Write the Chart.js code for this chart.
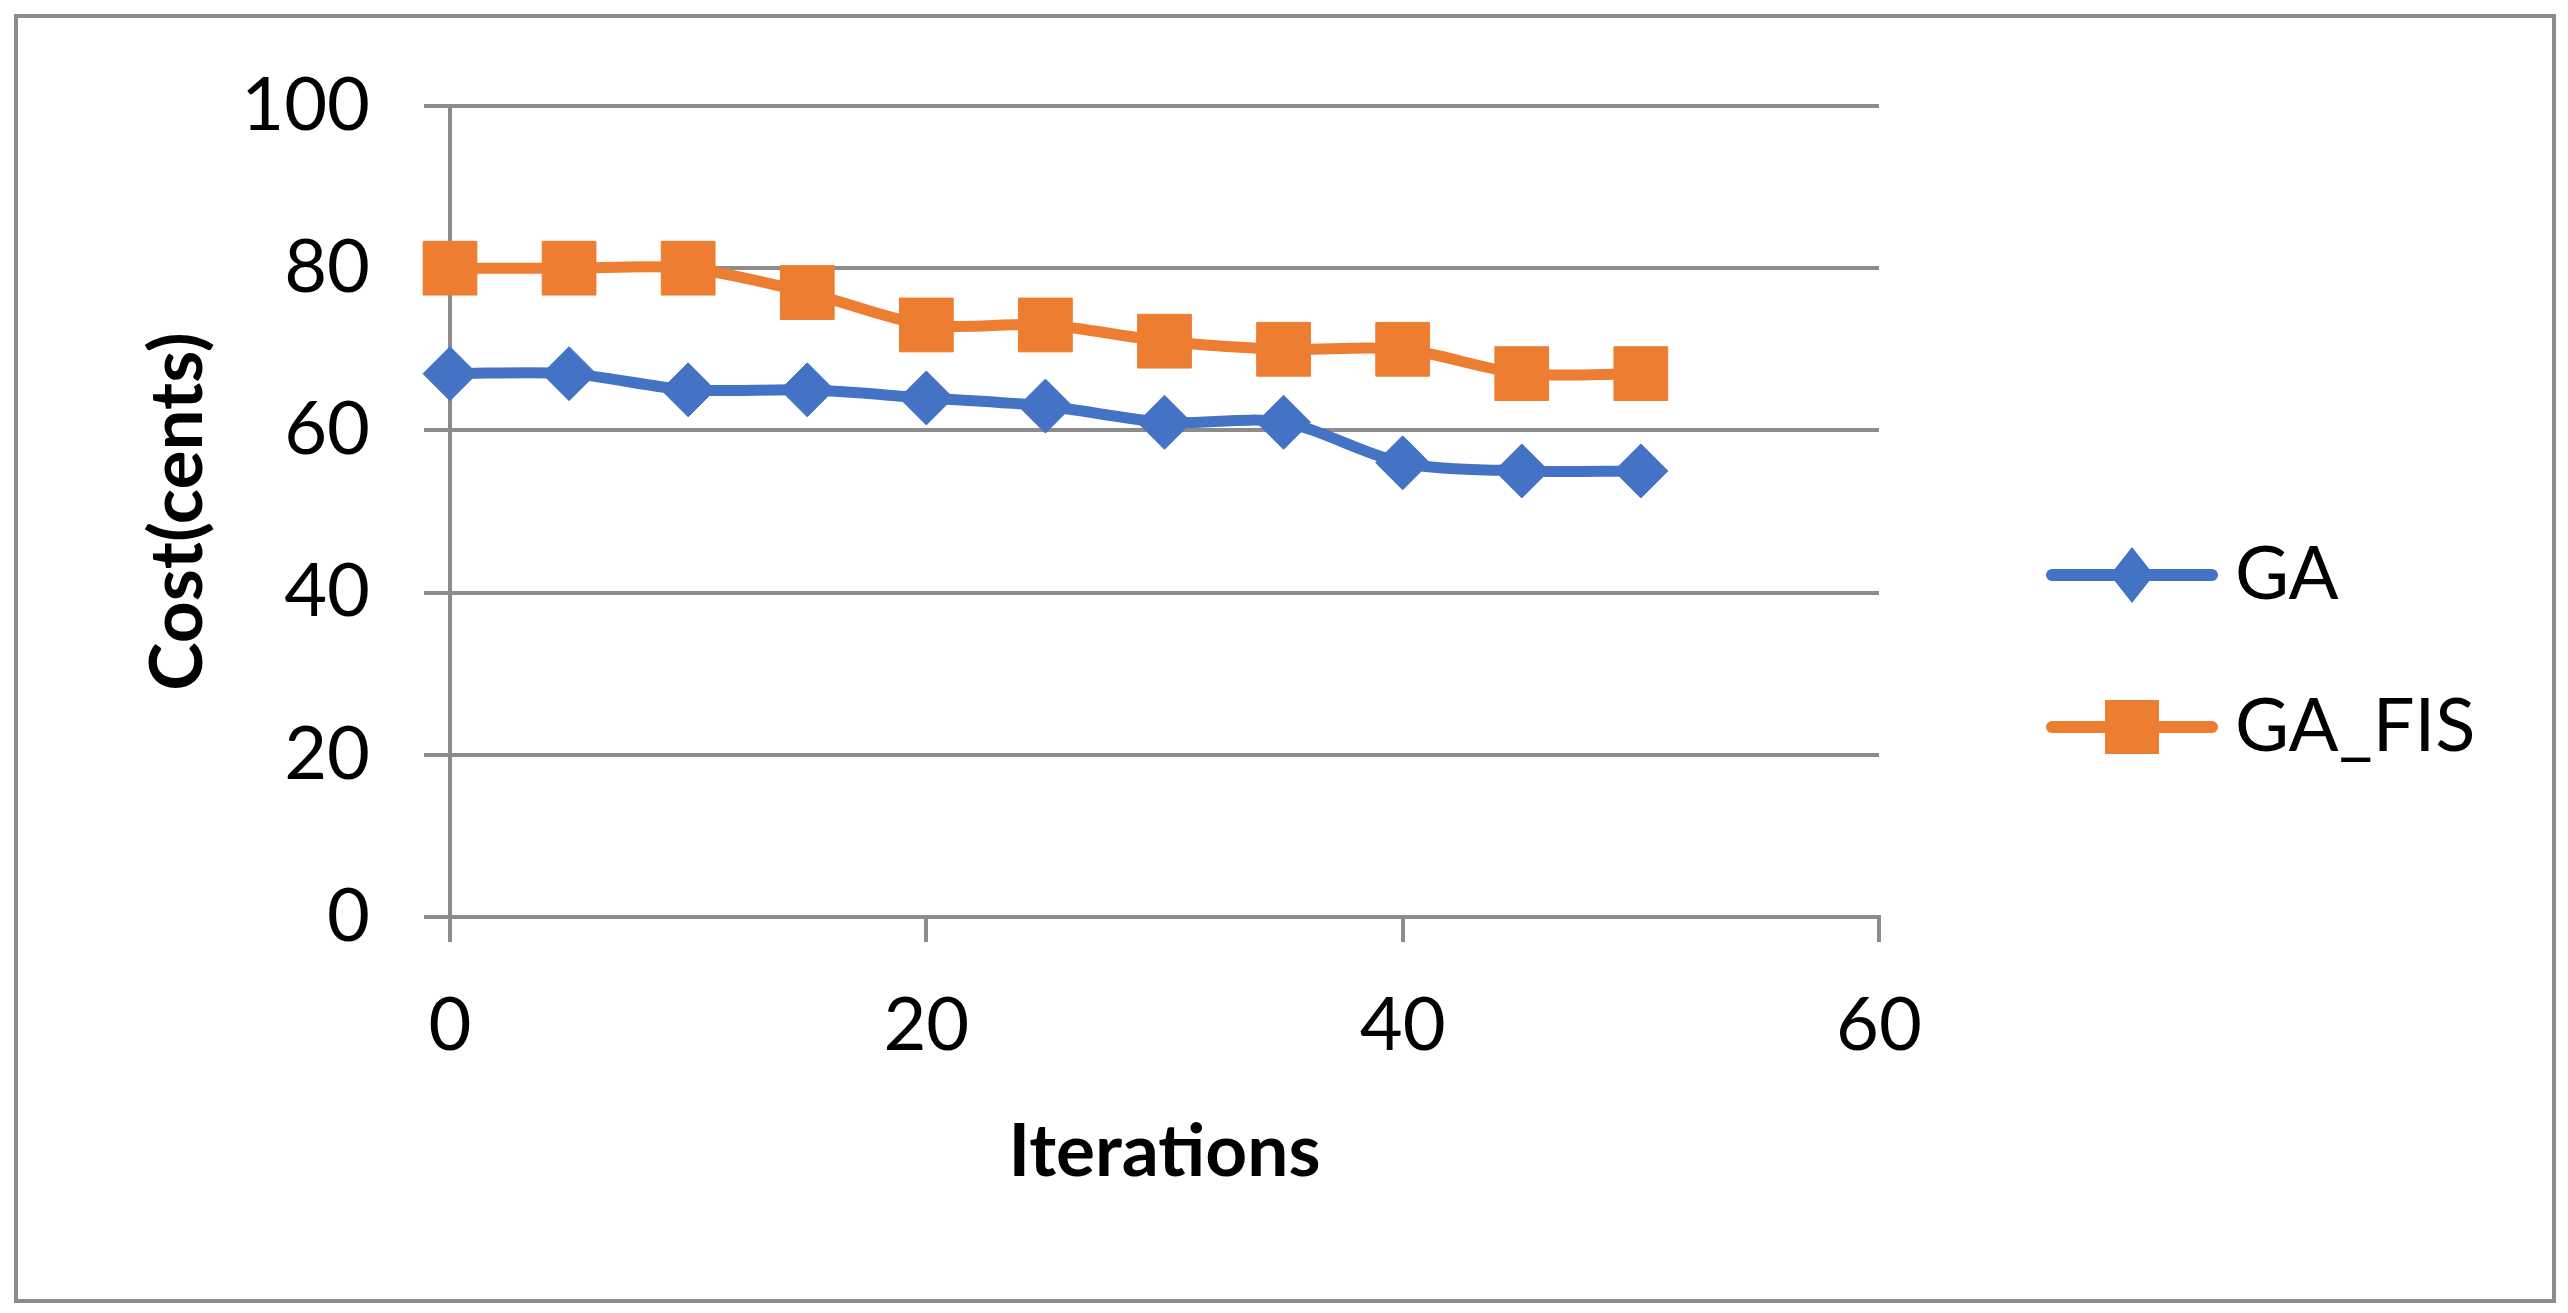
<!DOCTYPE html>
<html>
<head>
<meta charset="utf-8">
<script src="https://cdn.jsdelivr.net/npm/chart.js@4"></script>
<style>
  html, body { margin: 0; padding: 0; background: #fff; }
  #frame {
    position: absolute; left: 14px; top: 14px;
    width: 2542px; height: 1289px;
    border: 4px solid #8c8c8c; box-sizing: border-box;
  }
  #box { position: relative; width: 100%; height: 100%; }
</style>
</head>
<body>
<div id="frame"><div id="box"><canvas id="myChart"></canvas></div></div>
<script>
var iterations = [0, 5, 10, 15, 20, 25, 30, 35, 40, 45, 50];
var gaCost = [67, 67, 65, 65, 64, 63, 61, 61, 56, 55, 55];
var gaFisCost = [80, 80, 80, 77, 73, 73, 71, 70, 70, 67, 67];
var xTicks = [0, 20, 40, 60];
var yTicks = [0, 20, 40, 60, 80, 100];

var blue = '#4472c4';
var orange = '#ed7d31';
var gray = '#8c8c8c';
var legendBoxWidth = 650;

function pts(vals) {
	return iterations.map(function (x, i) { return { x: x, y: vals[i] }; });
}

// legend icon: line with marker, drawn on a small canvas
function legendIcon(color, shape) {
	var c = document.createElement('canvas');
	c.width = 281; c.height = 64;
	var g = c.getContext('2d');
	var x0 = c.width - 172, cy = c.height / 2, cx = c.width - 86;
	g.strokeStyle = color; g.lineWidth = 12; g.lineCap = 'round';
	g.beginPath(); g.moveTo(x0 + 6, cy); g.lineTo(c.width - 6, cy); g.stroke();
	g.fillStyle = color;
	g.beginPath();
	if (shape === 'diamond') {
		g.moveTo(cx, cy - 28); g.lineTo(cx + 22, cy); g.lineTo(cx, cy + 28); g.lineTo(cx - 22, cy);
	} else {
		g.rect(cx - 27, cy - 27, 54, 54);
	}
	g.closePath(); g.fill();
	return c;
}
var icons = [legendIcon(blue, 'diamond'), legendIcon(orange, 'square')];

// keep the legend box at a fixed width so the chart area lands where it should
var legendWidthPlugin = {
	id: 'legendWidth',
	beforeLayout: function (chart) {
		var lg = chart.legend;
		if (lg && !lg._fixedFit) {
			var fit = lg.fit;
			lg.fit = function () { fit.call(this); this.width = legendBoxWidth; };
			lg._fixedFit = true;
		}
	}
};

var ctx = document.getElementById('myChart').getContext('2d');

var lineChart = new Chart(ctx, {
	type: 'line',
	data: {
		datasets: [{
			label: 'GA',
			data: pts(gaCost),
			borderColor: blue,
			backgroundColor: blue,
			borderWidth: 11,
			tension: 0.3,
			pointStyle: 'rectRot',
			pointRadius: 27,
			pointHoverRadius: 27,
			pointBorderWidth: 1,
			clip: false
		}, {
			label: 'GA_FIS',
			data: pts(gaFisCost),
			borderColor: orange,
			backgroundColor: orange,
			borderWidth: 11,
			tension: 0.3,
			pointStyle: 'rect',
			pointRadius: 38,
			pointHoverRadius: 38,
			pointBorderWidth: 1,
			clip: false
		}]
	},
	plugins: [legendWidthPlugin],
	options: {
		responsive: true,
		maintainAspectRatio: false,
		animation: false,
		layout: { padding: { top: 88, left: 0, bottom: 0, right: 2534 - 1861 - legendBoxWidth } },
		plugins: {
			tooltip: { enabled: false },
			legend: {
				position: 'right',
				fullSize: false,
				title: { display: true, text: ' ', font: { size: 10 }, padding: { top: 267, bottom: 0 } },
				labels: {
					usePointStyle: true,
					pointStyleWidth: 241,
					padding: 78,
					color: '#000',
					font: { family: 'Lato', size: 74 },
					generateLabels: function (chart) {
						var items = Chart.defaults.plugins.legend.labels.generateLabels(chart);
						items.forEach(function (it, i) { it.pointStyle = icons[i]; });
						return items;
					}
				}
			}
		},
		scales: {
			x: {
				type: 'linear',
				min: 0,
				max: 60,
				afterBuildTicks: function (s) { s.ticks = xTicks.map(function (v) { return { value: v }; }); },
				afterFit: function (s) { s.height = 382; },
				ticks: { color: '#000', padding: 40, font: { family: 'Lato', size: 74 } },
				grid: { drawOnChartArea: false, drawTicks: true, tickLength: 25, color: gray, lineWidth: 4 },
				border: { display: true, color: gray, width: 4 },
				title: {
					display: true, text: 'Iterations', color: '#000',
					font: { family: 'Lato', size: 73, weight: 'bold' },
					padding: { top: 0, bottom: 103 }
				}
			},
			y: {
				min: 0,
				max: 100,
				afterBuildTicks: function (s) { s.ticks = yTicks.map(function (v) { return { value: v }; }); },
				afterFit: function (s) { s.width = 432; s.paddingTop = 0; s.paddingBottom = 0; },
				ticks: { color: '#000', padding: 54, font: { family: 'Lato', size: 74 } },
				grid: { color: gray, lineWidth: 4, tickLength: 26 },
				border: { display: true, color: gray, width: 4 },
				title: {
					display: true, text: 'Cost(cents)', color: '#000',
					font: { family: 'Lato', size: 73, weight: 'bold' },
					padding: { top: 117, bottom: 0 }
				}
			}
		}
	}
});
</script>
</body>
</html>
